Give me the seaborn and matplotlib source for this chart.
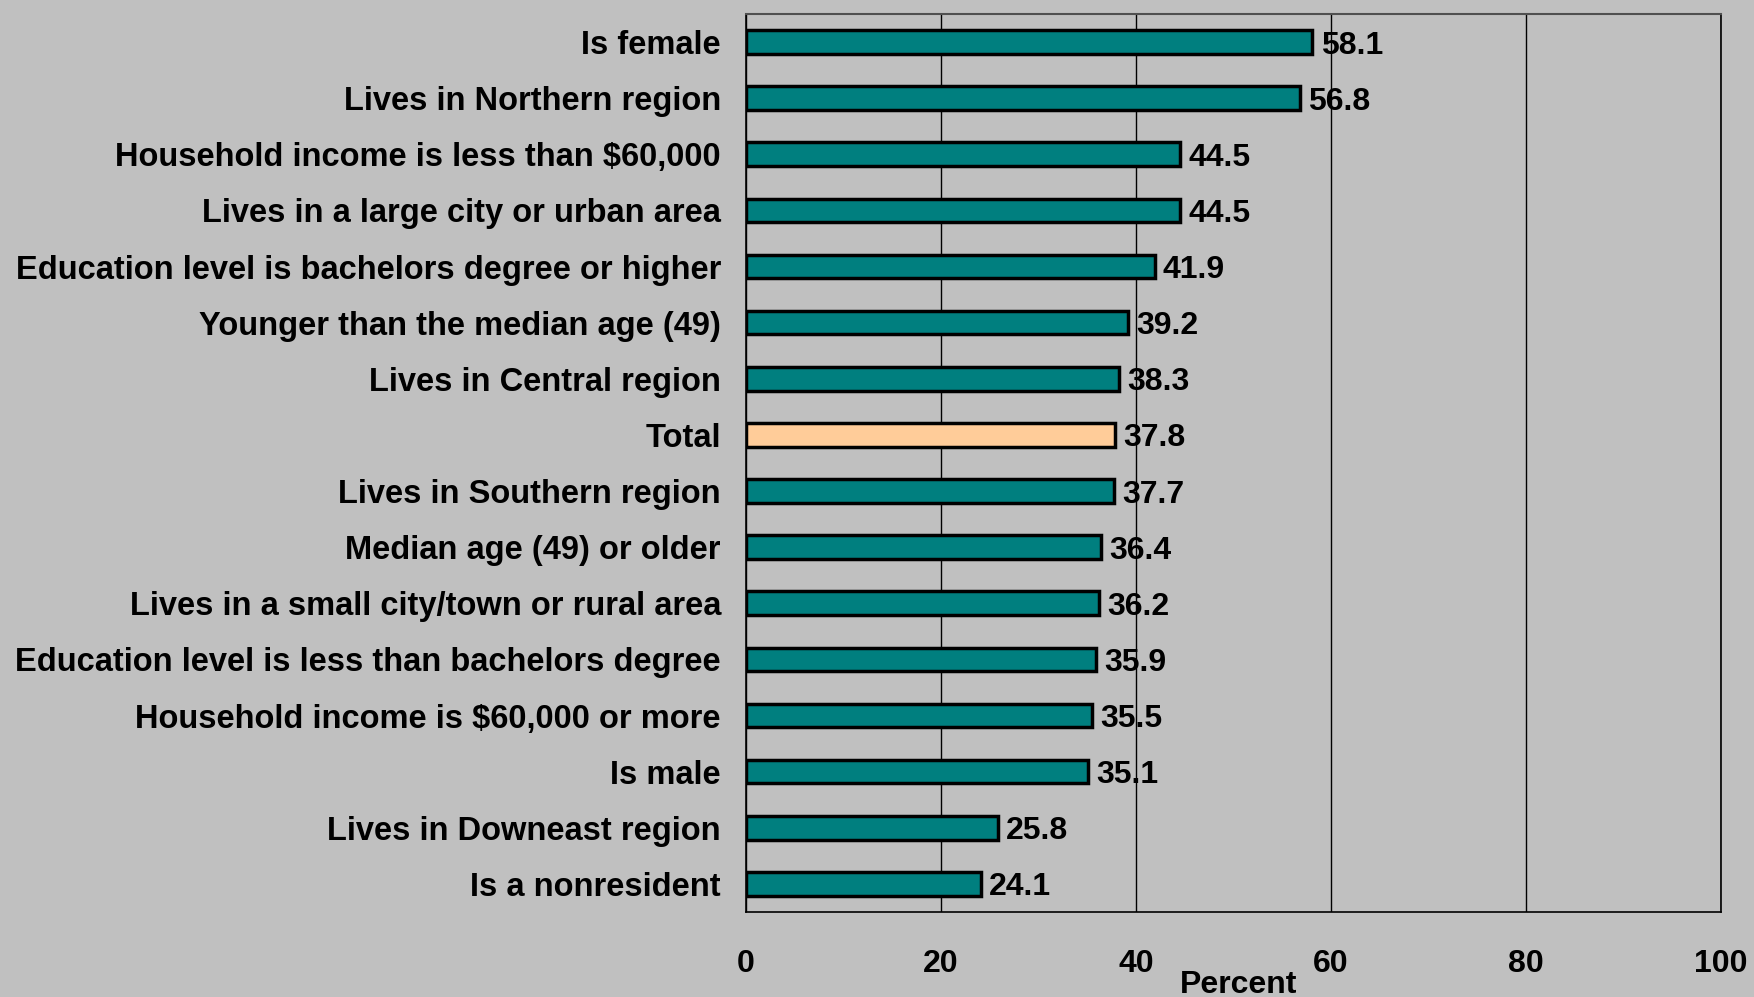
import numpy as np
import pandas as pd
import seaborn as sns
import matplotlib.pyplot as plt

categories = [
    "Is female",
    "Lives in Northern region",
    "Household income is less than $60,000",
    "Lives in a large city or urban area",
    "Education level is bachelors degree or higher",
    "Younger than the median age (49)",
    "Lives in Central region",
    "Total",
    "Lives in Southern region",
    "Median age (49) or older",
    "Lives in a small city/town or rural area",
    "Education level is less than bachelors degree",
    "Household income is $60,000 or more",
    "Is male",
    "Lives in Downeast region",
    "Is a nonresident",
]
values = [58.1, 56.8, 44.5, 44.5, 41.9, 39.2, 38.3, 37.8,
          37.7, 36.4, 36.2, 35.9, 35.5, 35.1, 25.8, 24.1]
x_ticks = [0, 20, 40, 60, 80, 100]

teal = "#007F7F"
peach = "#FFCC99"
bg = "#C0C0C0"

df = pd.DataFrame({"category": categories, "value": values})
palette = {c: (peach if c == "Total" else teal) for c in categories}

sns.set_style("white")
plt.rcParams["font.family"] = ["Liberation Sans", "DejaVu Sans"]
plt.rcParams["font.weight"] = "bold"
plt.rcParams["text.color"] = "black"
plt.rcParams["xtick.color"] = "black"
plt.rcParams["ytick.color"] = "black"

fig = plt.figure(figsize=(17.54, 9.97), dpi=100, facecolor=bg)
ax = fig.add_axes([0.4253, 0.0853, 0.9812 - 0.4253, 0.986 - 0.0853])
ax.set_facecolor(bg)

sns.barplot(data=df, x="value", y="category", hue="category", palette=palette,
            legend=False, orient="h", width=0.42, edgecolor="black",
            linewidth=2.5, saturation=1, ax=ax, zorder=3)

for cont in ax.containers:
    labels = ax.bar_label(cont, fmt="%.1f", padding=6, fontsize=23, fontweight="bold",
                          color="black", zorder=4)
    for t in labels:
        t.set_va("center_baseline")

ax.set_xlim(0, 100)
ax.set_ylim(len(categories) - 0.5, -0.5)
ax.set_xticks(x_ticks)
ax.set_xticklabels([str(t) for t in x_ticks], fontsize=23, fontweight="bold")
ax.tick_params(axis="x", direction="out", length=9, width=1, pad=18)
ax.tick_params(axis="y", which="major", length=0, pad=18, labelsize=23.5)
ax.set_yticks(np.arange(-0.5, len(categories), 1.0), minor=True)
ax.tick_params(axis="y", which="minor", direction="out", length=9, width=1)
for lbl in ax.get_yticklabels():
    lbl.set_fontweight("bold")
    lbl.set_color("black")

ax.grid(axis="x", color="black", linewidth=1, zorder=0)
ax.grid(axis="y", visible=False)
ax.set_axisbelow(True)
for side in ["left", "right", "bottom"]:
    ax.spines[side].set_color("black")
    ax.spines[side].set_linewidth(1.2)
ax.spines["top"].set_color("#505050")
ax.spines["top"].set_linewidth(1.5)

ax.set_xlabel("")
ax.set_ylabel("")
fig.text(ax.get_position().x0 + 0.505 * ax.get_position().width, 0.012, "Percent",
         ha="center", va="center", fontsize=23, fontweight="bold")

fig.savefig("out.png", dpi=100, facecolor=bg)
